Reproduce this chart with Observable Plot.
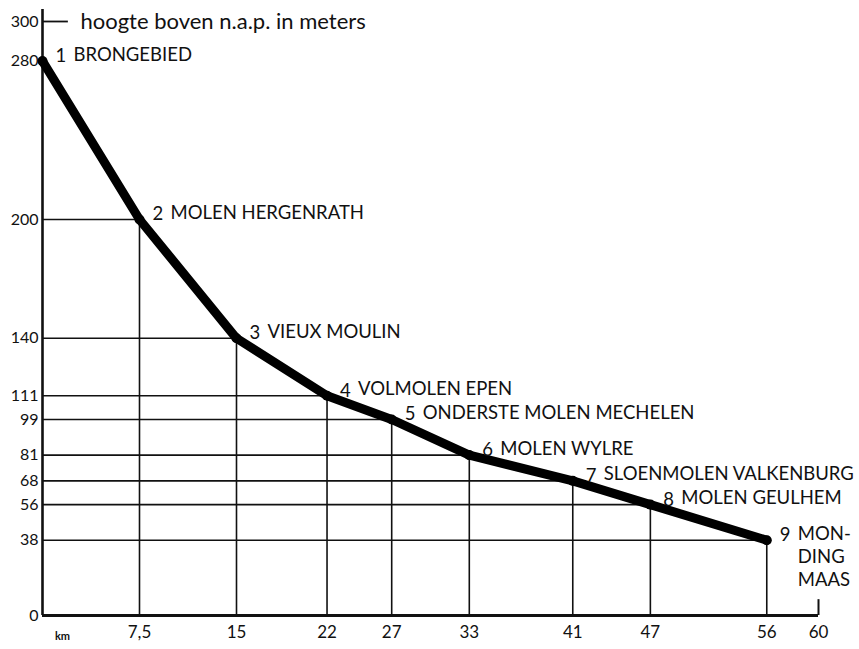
<!DOCTYPE html>
<html><head><meta charset="utf-8">
<script src="https://cdn.jsdelivr.net/npm/d3@7"></script>
<script src="https://cdn.jsdelivr.net/npm/@observablehq/plot@0.6"></script>
<style>body{margin:0;background:#fff} #chart svg{font-family:Lato,"Open Sans",sans-serif;background:#fff}</style>
</head><body><div id="chart"></div>
<script>
const km = [0, 7.5, 15, 22, 27, 33, 41, 47, 56];
const heights = [280, 200, 140, 111, 99, 81, 68, 56, 38];
const nums = [1, 2, 3, 4, 5, 6, 7, 8, 9];
const names = ["BRONGEBIED", "MOLEN HERGENRATH", "VIEUX MOULIN", "VOLMOLEN EPEN",
  "ONDERSTE MOLEN MECHELEN", "MOLEN WYLRE", "SLOENMOLEN VALKENBURG", "MOLEN GEULHEM",
  "MON-\nDING\nMAAS"];
const xTicks = [7.5, 15, 22, 27, 33, 41, 47, 56, 60];
const xTickLabels = ["7,5", "15", "22", "27", "33", "41", "47", "56", "60"];
const yTicks = [0, 38, 56, 68, 81, 99, 111, 140, 200, 280, 300];
const yTitle = "hoogte boven n.a.p. in meters";
const xUnit = "km";

const data = km.map((k, i) => ({km: k, h: heights[i], n: nums[i], name: names[i]}));
const xMax = d3.max(xTicks), yMax = d3.max(yTicks);
const xLabel = new Map(xTicks.map((t, i) => [t, xTickLabels[i]]));
const inner = data.filter(d => d.km > 0);

const chart = Plot.plot({
  width: 859, height: 649,
  marginLeft: 42, marginRight: 41, marginTop: 21, marginBottom: 34,
  x: {domain: [0, xMax], axis: null},
  y: {domain: [0, yMax], axis: null},
  marks: [
    Plot.ruleY(inner, {y: "h", x1: 0, x2: "km", stroke: "#111", strokeWidth: 1.6}),
    Plot.ruleX(inner, {x: "km", y1: 0, y2: "h", stroke: "#111", strokeWidth: 1.6}),
    Plot.ruleX([0], {y1: 0, y2: yMax * 1.02, stroke: "#111", strokeWidth: 2.6}),
    Plot.ruleY([0], {x1: 0, x2: xMax, stroke: "#111", strokeWidth: 3}),
    Plot.ruleY([yMax], {x1: 0, x2: 2, stroke: "#111", strokeWidth: 1.8}),
    Plot.ruleX([xMax], {y1: 0, y2: 8, stroke: "#111", strokeWidth: 2}),
    Plot.axisY(yTicks, {tickSize: 0, tickPadding: 4, fontSize: 16, fill: "#111", label: null}),
    Plot.axisX(xTicks, {tickSize: 0, tickPadding: 10, fontSize: 17, fill: "#111", label: null,
      tickFormat: d => xLabel.get(d)}),
    Plot.text([xUnit], {x: 0, y: 0, dx: 20, dy: 21, fontSize: 11, fill: "#111", fontWeight: "bold"}),
    Plot.text([yTitle], {x: 0, y: yMax, dx: 38, textAnchor: "start", fontSize: 22, fill: "#111"}),
    Plot.line(data, {x: "km", y: "h", stroke: "#000", strokeWidth: 9, strokeLinejoin: "round", strokeLinecap: "round"}),
    Plot.dot(data, {x: "km", y: "h", r: 5, fill: "#000"}),
    Plot.text(data, {x: "km", y: "h", text: "n", dx: 13, dy: -5, textAnchor: "start", fontSize: 18.5, fill: "#111"}),
    Plot.text(data, {x: "km", y: "h", text: "name", dx: 31, dy: -17, lineAnchor: "top", lineHeight: 1.25,
      textAnchor: "start", fontSize: 18.5, fill: "#111"})
  ]
});
document.getElementById("chart").append(chart);
</script>
</body></html>
